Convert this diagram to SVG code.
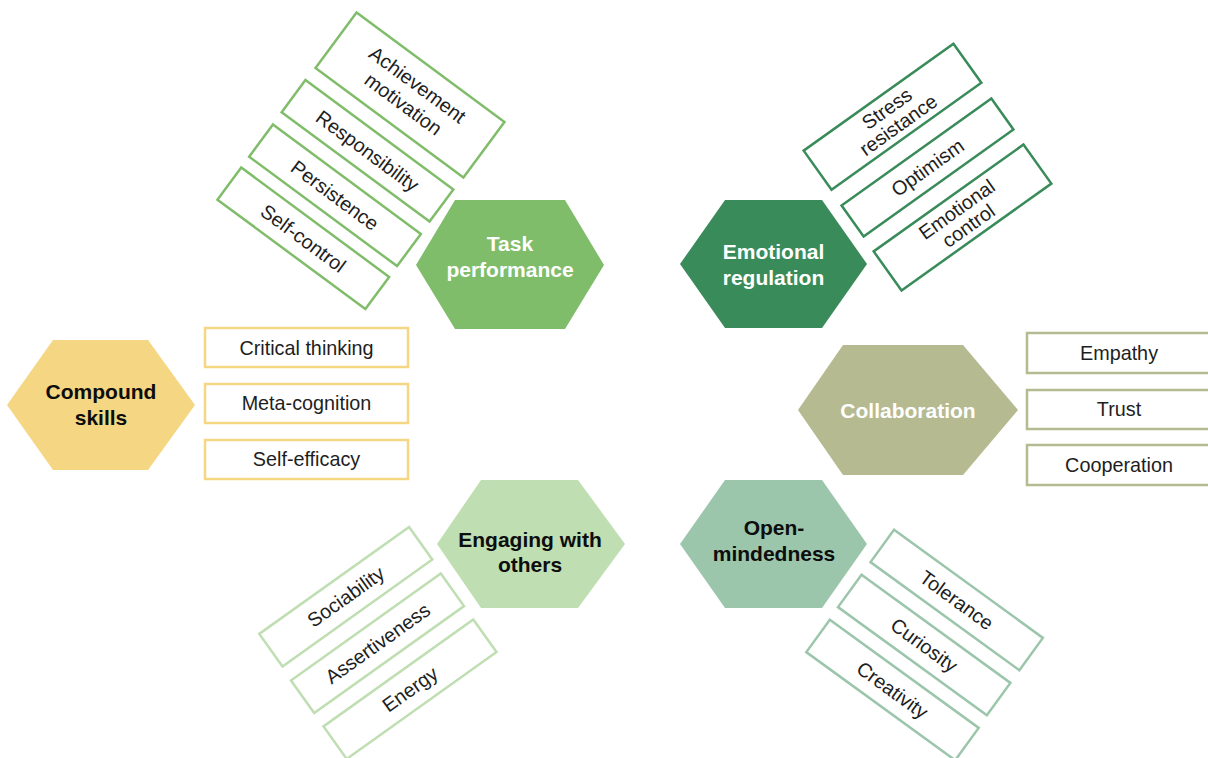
<svg xmlns="http://www.w3.org/2000/svg" width="1208" height="758" viewBox="0 0 1208 758">
  <style>
    .hex-label { font-family: "Liberation Sans", Arial, sans-serif; font-weight: bold; font-size: 21px; text-anchor: middle; }
    .leaf-label { font-family: "Liberation Sans", Arial, sans-serif; font-size: 19.8px; fill: #1e1e1e; text-anchor: middle; }
    .leaf { fill: #ffffff; stroke-width: 2.5; }
    .task { fill: #80BD6A; } .task-leaf { stroke: #80BD6A; }
    .emo { fill: #3A8B5A; } .emo-leaf { stroke: #3A8B5A; }
    .comp { fill: #F5D682; } .comp-leaf { stroke: #F5D682; }
    .collab { fill: #B6BA91; } .collab-leaf { stroke: #B6BA91; }
    .engage { fill: #BFDEB2; } .engage-leaf { stroke: #BFDEB2; }
    .open { fill: #9CC6AB; } .open-leaf { stroke: #9CC6AB; }
    .white { fill: #ffffff; } .black { fill: #0d0d0d; }
  </style>
  <rect width="1208" height="758" fill="#ffffff"/>

  <!-- Connectors: none, the clusters stand on their own -->
  <g id="connectors"/>

  <!-- Task performance -->
  <g id="task-performance">
    <polygon class="task" points="416,265 455,200 565,200 604,265 565,329 455,329"/>
    <text class="hex-label white" x="510" y="251">Task</text>
    <text class="hex-label white" x="510" y="277">performance</text>
  </g>
  <g id="achievement-motivation" transform="translate(410,95) rotate(36.5)">
    <rect class="leaf task-leaf" x="-92" y="-34.5" width="184" height="69"/>
    <text class="leaf-label" x="0" y="-6">Achievement</text>
    <text class="leaf-label" x="0" y="18">motivation</text>
  </g>
  <g id="responsibility" transform="translate(367.5,150.8) rotate(36.5)">
    <rect class="leaf task-leaf" x="-92" y="-20" width="184" height="40"/>
    <text class="leaf-label" x="0" y="7">Responsibility</text>
  </g>
  <g id="persistence" transform="translate(335,195.3) rotate(36.5)">
    <rect class="leaf task-leaf" x="-92" y="-20" width="184" height="40"/>
    <text class="leaf-label" x="0" y="7">Persistence</text>
  </g>
  <g id="self-control" transform="translate(303.3,238.3) rotate(36.5)">
    <rect class="leaf task-leaf" x="-92" y="-20" width="184" height="40"/>
    <text class="leaf-label" x="0" y="7">Self-control</text>
  </g>

  <!-- Emotional regulation -->
  <g id="emotional-regulation">
    <polygon class="emo" points="680,264 725,200 822,200 867,264 822,328 725,328"/>
    <text class="hex-label white" x="773.5" y="259">Emotional</text>
    <text class="hex-label white" x="773.5" y="285">regulation</text>
  </g>
  <g id="stress-resistance" transform="translate(892.5,116.7) rotate(-35.5)">
    <rect class="leaf emo-leaf" x="-92" y="-24" width="184" height="48"/>
    <text class="leaf-label" x="0" y="-3">Stress</text>
    <text class="leaf-label" x="0" y="17">resistance</text>
  </g>
  <g id="optimism" transform="translate(927.5,167.5) rotate(-35.5)">
    <rect class="leaf emo-leaf" x="-92" y="-19" width="184" height="38"/>
    <text class="leaf-label" x="0" y="7">Optimism</text>
  </g>
  <g id="emotional-control" transform="translate(962.5,217.5) rotate(-35.5)">
    <rect class="leaf emo-leaf" x="-92" y="-24" width="184" height="48"/>
    <text class="leaf-label" x="0" y="-3">Emotional</text>
    <text class="leaf-label" x="0" y="17">control</text>
  </g>

  <!-- Compound skills -->
  <g id="compound-skills">
    <polygon class="comp" points="7,405 53,340 148,340 195,405 148,470 53,470"/>
    <text class="hex-label black" x="101" y="399">Compound</text>
    <text class="hex-label black" x="101" y="425">skills</text>
  </g>
  <g id="critical-thinking">
    <rect class="leaf comp-leaf" x="205" y="328" width="203" height="39"/>
    <text class="leaf-label" x="306.5" y="355">Critical thinking</text>
  </g>
  <g id="meta-cognition">
    <rect class="leaf comp-leaf" x="205" y="384" width="203" height="39"/>
    <text class="leaf-label" x="306.5" y="410">Meta-cognition</text>
  </g>
  <g id="self-efficacy">
    <rect class="leaf comp-leaf" x="205" y="440" width="203" height="39"/>
    <text class="leaf-label" x="306.5" y="466">Self-efficacy</text>
  </g>

  <!-- Collaboration -->
  <g id="collaboration">
    <polygon class="collab" points="798,410 843,345 963,345 1018,410 963,475 843,475"/>
    <text class="hex-label white" x="908" y="418">Collaboration</text>
  </g>
  <g id="empathy">
    <rect class="leaf collab-leaf" x="1027" y="333" width="184" height="40"/>
    <text class="leaf-label" x="1119" y="360">Empathy</text>
  </g>
  <g id="trust">
    <rect class="leaf collab-leaf" x="1027" y="390" width="184" height="39"/>
    <text class="leaf-label" x="1119" y="416">Trust</text>
  </g>
  <g id="cooperation">
    <rect class="leaf collab-leaf" x="1027" y="445" width="184" height="40"/>
    <text class="leaf-label" x="1119" y="472">Cooperation</text>
  </g>

  <!-- Engaging with others -->
  <g id="engaging-with-others">
    <polygon class="engage" points="437,544 481,480 578,480 625,544 578,608 481,608"/>
    <text class="hex-label black" x="530" y="547">Engaging with</text>
    <text class="hex-label black" x="530" y="572">others</text>
  </g>
  <g id="sociability" transform="translate(345.8,596.7) rotate(-35.5)">
    <rect class="leaf engage-leaf" x="-92" y="-20" width="184" height="40"/>
    <text class="leaf-label" x="0" y="7">Sociability</text>
  </g>
  <g id="assertiveness" transform="translate(377.5,643.3) rotate(-35.5)">
    <rect class="leaf engage-leaf" x="-92" y="-20" width="184" height="40"/>
    <text class="leaf-label" x="0" y="7">Assertiveness</text>
  </g>
  <g id="energy" transform="translate(410,689.2) rotate(-35.5)">
    <rect class="leaf engage-leaf" x="-92" y="-20" width="184" height="40"/>
    <text class="leaf-label" x="0" y="7">Energy</text>
  </g>

  <!-- Open-mindedness -->
  <g id="open-mindedness">
    <polygon class="open" points="680,544 725,480 822,480 867,544 822,608 725,608"/>
    <text class="hex-label black" x="774" y="535">Open-</text>
    <text class="hex-label black" x="774" y="561">mindedness</text>
  </g>
  <g id="tolerance" transform="translate(956.7,600) rotate(36)">
    <rect class="leaf open-leaf" x="-92" y="-20" width="184" height="40"/>
    <text class="leaf-label" x="0" y="7">Tolerance</text>
  </g>
  <g id="curiosity" transform="translate(924.2,645) rotate(36)">
    <rect class="leaf open-leaf" x="-92" y="-20" width="184" height="40"/>
    <text class="leaf-label" x="0" y="7">Curiosity</text>
  </g>
  <g id="creativity" transform="translate(892.5,690) rotate(36)">
    <rect class="leaf open-leaf" x="-92" y="-20" width="184" height="40"/>
    <text class="leaf-label" x="0" y="7">Creativity</text>
  </g>
</svg>
